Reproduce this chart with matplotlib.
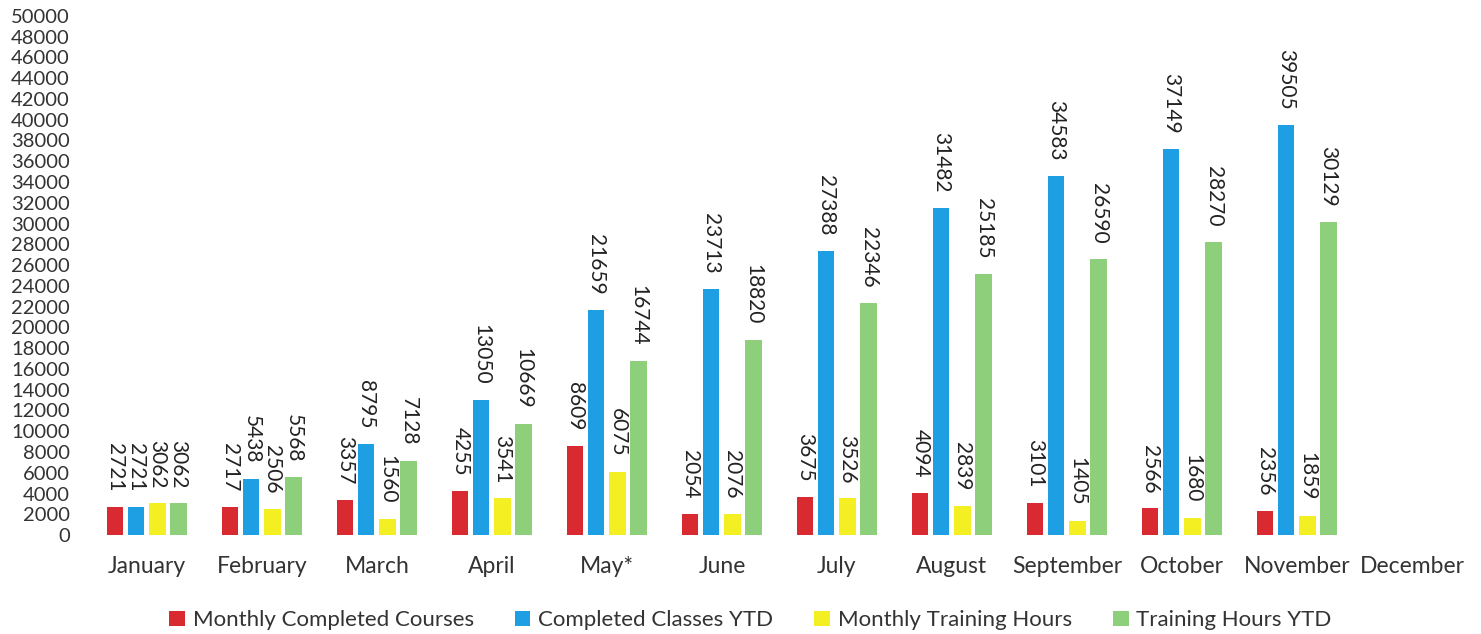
"""
Monthly training summary: grouped bars per month with vertical value labels.
Output: out.png
"""

import numpy as np
import matplotlib.pyplot as plt

# ---------------------------------------------------------------------
# Data
# ---------------------------------------------------------------------

months = ["January", "February", "March", "April", "May*", "June",
          "July", "August", "September", "October", "November", "December"]

monthly_courses = [2721, 2717, 3357, 4255, 8609, 2054, 3675, 4094, 3101, 2566, 2356]
classes_ytd = [2721, 5438, 8795, 13050, 21659, 23713, 27388, 31482, 34583, 37149, 39505]
monthly_hours = [3062, 2506, 1560, 3541, 6075, 2076, 3526, 2839, 1405, 1680, 1859]
hours_ytd = [3062, 5568, 7128, 10669, 16744, 18820, 22346, 25185, 26590, 28270, 30129]

series_names = ["Monthly Completed Courses", "Completed Classes YTD",
                "Monthly Training Hours", "Training Hours YTD"]
colors = ["#d92a32", "#1e9fe3", "#f4ef22", "#8ecf7c"]

y_ticks = list(range(0, 50001, 2000))

# ---------------------------------------------------------------------
# Plot
# ---------------------------------------------------------------------

plt.rcParams["font.family"] = ["Lato", "DejaVu Sans"]

fig = plt.figure(figsize=(14.81, 6.34), dpi=100)
ax = fig.add_axes([0.0604, 0.156, 0.9318, 0.819])

x = np.arange(len(months))
width = 0.14
step = 0.183
series = [monthly_courses, classes_ytd, monthly_hours, hours_ytd]

for i, (vals, name, col) in enumerate(zip(series, series_names, colors)):
    xs = x[:len(vals)] + (i - 1.5) * step
    bars = ax.bar(xs, vals, width=width, color=col, label=name)
    ax.bar_label(bars, labels=[str(v) for v in vals], rotation=270,
                 padding=11, fontsize=15, color="#222222")

ax.set_xlim(-0.5, len(months) - 0.5)
ax.set_ylim(0, 50000)
ax.set_yticks(y_ticks)
ax.set_yticklabels([str(t) for t in y_ticks])
ax.set_xticks(x)
ax.set_xticklabels(months)
ax.tick_params(axis="y", length=0, pad=14, labelsize=14.5, labelcolor="#333333")
ax.tick_params(axis="x", length=0, pad=15, labelsize=16.5, labelcolor="#333333")
for side in ax.spines.values():
    side.set_visible(False)

ax.legend(loc="lower center", bbox_to_anchor=(0.479, -0.222), ncol=4,
          frameon=False, fontsize=16, handlelength=0.7, handleheight=0.7,
          handletextpad=0.35, columnspacing=1.85, labelcolor="#333333")

plt.savefig("out.png", dpi=100)
plt.close()
